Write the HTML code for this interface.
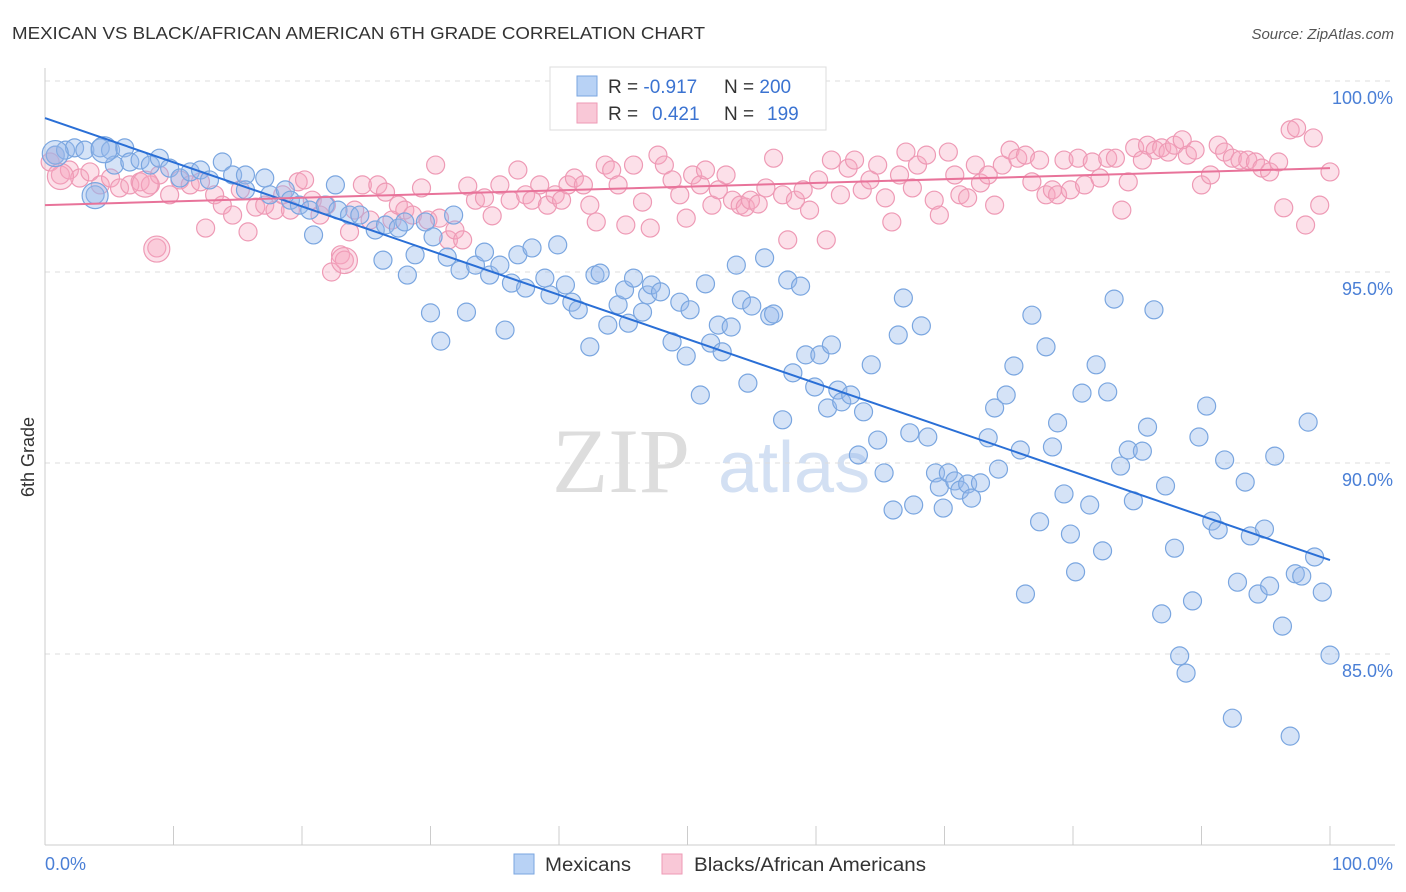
<!DOCTYPE html>
<html><head><meta charset="utf-8"><style>
body{margin:0;background:#fff;font-family:"Liberation Sans",sans-serif;}
svg{display:block}
</style></head><body>
<svg id="chart" width="1406" height="892" xmlns="http://www.w3.org/2000/svg">
<text x="12" y="39" font-size="17.5" fill="#333" textLength="693" lengthAdjust="spacingAndGlyphs">MEXICAN VS BLACK/AFRICAN AMERICAN 6TH GRADE CORRELATION CHART</text>
<text x="1394" y="39" font-size="15" fill="#555" font-style="italic" text-anchor="end">Source: ZipAtlas.com</text>
<g>
<text x="552" y="492" font-size="92" font-family="Liberation Serif, serif" fill="#ddd">ZIP</text>
<text x="718" y="492" font-size="72" fill="#d3e0f3">atlas</text>
</g>
<g id="grid"></g>
<g id="axes"></g>
<g id="marks"></g>
<g>
<rect x="550" y="67" width="276" height="63" fill="#fff" stroke="#ddd"/>
<rect x="577" y="76" width="20" height="20" fill="#b8d2f5" stroke="#7aa6e0"/>
<rect x="577" y="103" width="20" height="20" fill="#f9c8d7" stroke="#ee9ab5"/>
<text x="608" y="93" font-size="19" fill="#333">R = <tspan fill="#3b73d1">-0.917</tspan></text>
<text x="724" y="93" font-size="19" fill="#333">N = <tspan fill="#3b73d1">200</tspan></text>
<text x="608" y="120" font-size="19" fill="#333">R = <tspan x="652" fill="#3b73d1">0.421</tspan></text>
<text x="724" y="120" font-size="19" fill="#333">N = <tspan x="767" fill="#3b73d1">199</tspan></text>
</g>
<g>
<rect x="514" y="854" width="20" height="20" fill="#b8d2f5" stroke="#7aa6e0"/>
<text x="545" y="871" font-size="19" fill="#333" textLength="86" lengthAdjust="spacingAndGlyphs">Mexicans</text>
<rect x="662" y="854" width="20" height="20" fill="#f9c8d7" stroke="#ee9ab5"/>
<text x="694" y="871" font-size="19" fill="#333" textLength="232" lengthAdjust="spacingAndGlyphs">Blacks/African Americans</text>
</g>
<text x="0" y="0" font-size="18" fill="#333" transform="translate(34,457) rotate(-90)" text-anchor="middle">6th Grade</text>
</svg>
<script>
const yTicks=[100,95,90,85];
const yTickLabels=["100.0%","95.0%","90.0%","85.0%"];
const xTicks=[0,10,20,30,40,50,60,70,80,90,100];
const xEndLabels=["0.0%","100.0%"];
const mexicans=[[0.8,98.06],[1.6,98.19],[2.3,98.25],[3.1,98.19],[3.9,97.02],[4.3,98.25],[5.1,98.19],[6.2,98.25],[5.4,97.8],[6.6,97.88],[7.4,97.93],[8.2,97.8],[8.9,97.98],[9.7,97.72],[10.5,97.46],[11.3,97.62],[12.1,97.67],[12.8,97.41],[13.8,97.88],[14.6,97.54],[15.6,97.54],[15.6,97.15],[17.1,97.46],[17.5,97.02],[18.7,97.15],[19.1,96.88],[19.8,96.75],[20.6,96.62],[21.8,96.75],[22.6,97.28],[22.8,96.62],[23.7,96.49],[24.5,96.49],[25.7,96.1],[26.5,96.23],[27.5,96.15],[28.0,96.31],[29.6,96.31],[30.2,95.92],[31.8,96.49],[20.9,95.97],[26.3,95.31],[28.2,94.92],[28.8,95.45],[30.0,93.93],[30.8,93.19],[31.3,95.39],[32.3,95.05],[32.8,93.95],[33.5,95.18],[34.2,95.52],[34.6,94.92],[35.4,95.18],[35.8,93.48],[36.3,94.71],[36.8,95.45],[37.4,94.58],[37.9,95.63],[38.9,94.84],[39.3,94.4],[39.9,95.71],[40.5,94.66],[41.0,94.21],[41.5,94.01],[42.4,93.04],[42.8,94.92],[43.2,94.97],[43.8,93.61],[44.6,94.14],[45.1,94.53],[45.4,93.66],[45.8,94.84],[46.5,93.95],[46.9,94.4],[47.2,94.66],[47.9,94.48],[48.8,93.17],[49.4,94.21],[49.9,92.8],[50.2,94.01],[51.0,91.78],[51.4,94.69],[51.8,93.14],[52.4,93.61],[52.7,92.91],[53.4,93.56],[53.8,95.18],[54.2,94.27],[54.7,92.09],[55.0,94.11],[56.0,95.37],[56.4,93.85],[56.7,93.9],[57.4,91.13],[57.8,94.79],[58.2,92.36],[58.8,94.63],[59.2,92.83],[59.9,91.99],[60.3,92.83],[60.9,91.44],[61.2,93.09],[61.7,91.91],[62.0,91.6],[62.7,91.78],[63.3,90.21],[63.7,91.34],[64.3,92.57],[64.8,90.6],[65.3,89.74],[66.0,88.77],[66.4,93.35],[66.8,94.32],[67.3,90.79],[67.6,88.9],[68.2,93.59],[68.7,90.68],[69.3,89.74],[69.6,89.37],[69.9,88.82],[70.3,89.74],[70.8,89.53],[71.2,89.29],[71.8,89.45],[72.1,89.08],[72.8,89.48],[73.4,90.66],[73.9,91.44],[74.2,89.84],[74.8,91.78],[75.4,92.54],[75.9,90.34],[76.3,86.57],[76.8,93.87],[77.4,88.46],[77.9,93.04],[78.4,90.42],[78.8,91.05],[79.3,89.19],[79.8,88.14],[80.2,87.15],[80.7,91.83],[81.3,88.9],[81.8,92.57],[82.3,87.7],[82.7,91.86],[83.2,94.29],[83.7,89.92],[84.3,90.34],[84.7,89.01],[85.4,90.31],[85.8,90.94],[86.3,94.01],[86.9,86.05],[87.2,89.4],[87.9,87.77],[88.3,84.95],[88.8,84.5],[89.3,86.39],[89.8,90.68],[90.4,91.49],[90.8,88.48],[91.3,88.25],[91.8,90.08],[92.4,83.32],[92.8,86.88],[93.4,89.5],[93.8,88.09],[94.4,86.57],[94.9,88.27],[95.3,86.78],[95.7,90.18],[96.3,85.73],[96.9,82.85],[97.3,87.1],[97.8,87.04],[98.3,91.07],[98.8,87.54],[99.4,86.62],[100,84.97]];
const blacks=[[0.4,97.88],[0.8,98.06],[1.2,97.54],[1.9,97.67],[2.7,97.46],[3.5,97.62],[4.3,97.28],[5.1,97.46],[5.8,97.2],[6.6,97.28],[7.4,97.36],[8.2,97.28],[8.7,95.63],[8.9,97.54],[9.7,97.02],[10.5,97.41],[11.3,97.28],[12.1,97.36],[12.5,96.15],[13.2,97.02],[13.8,96.75],[14.6,96.49],[15.2,97.15],[15.8,96.05],[16.4,96.7],[17.1,96.75],[17.9,96.62],[18.5,97.02],[19.1,96.62],[19.7,97.36],[20.2,97.41],[20.8,96.88],[21.4,96.49],[21.9,96.75],[22.3,95.0],[23.0,95.45],[23.3,95.31],[23.7,96.05],[24.1,96.62],[24.7,97.28],[25.3,96.36],[25.9,97.28],[26.5,97.09],[27.0,96.36],[27.5,96.75],[28.0,96.62],[28.6,96.49],[29.3,97.2],[29.8,96.36],[30.4,97.8],[30.7,96.41],[31.4,95.84],[31.9,96.1],[32.5,95.84],[32.9,97.25],[33.5,96.88],[34.2,96.94],[34.8,96.47],[35.4,97.28],[36.2,96.88],[36.8,97.67],[37.4,97.02],[37.9,96.88],[38.5,97.28],[39.1,96.75],[39.7,97.02],[40.2,96.88],[40.7,97.28],[41.2,97.46],[41.9,97.28],[42.4,96.75],[42.9,96.31],[43.6,97.8],[44.1,97.67],[44.6,97.28],[45.2,96.23],[45.8,97.8],[46.5,96.83],[47.1,96.15],[47.7,98.06],[48.2,97.8],[48.8,97.41],[49.4,97.02],[49.9,96.41],[50.4,97.54],[51.0,97.28],[51.4,97.67],[51.9,96.75],[52.4,97.15],[53.0,97.54],[53.5,96.88],[54.1,96.75],[54.5,96.7],[54.9,96.88],[55.5,96.78],[56.1,97.2],[56.7,97.98],[57.4,97.02],[57.8,95.84],[58.4,96.88],[59.0,97.15],[59.5,96.62],[60.2,97.41],[60.8,95.84],[61.2,97.93],[61.9,97.02],[62.5,97.72],[63.0,97.93],[63.6,97.15],[64.2,97.41],[64.8,97.8],[65.4,96.94],[65.9,96.31],[66.5,97.54],[67.0,98.14],[67.5,97.2],[67.9,97.8],[68.6,98.06],[69.2,96.88],[69.6,96.49],[70.3,98.14],[70.8,97.54],[71.2,97.02],[71.8,96.94],[72.4,97.8],[72.8,97.33],[73.4,97.54],[73.9,96.75],[74.5,97.8],[75.1,98.19],[75.7,97.98],[76.3,98.06],[76.8,97.36],[77.4,97.93],[77.9,97.02],[78.4,97.15],[78.8,97.02],[79.3,97.93],[79.8,97.15],[80.4,97.98],[80.9,97.28],[81.5,97.88],[82.1,97.46],[82.7,97.98],[83.3,97.98],[83.8,96.62],[84.3,97.36],[84.8,98.25],[85.4,97.93],[85.8,98.32],[86.4,98.19],[86.9,98.25],[87.4,98.14],[87.9,98.32],[88.5,98.46],[88.9,98.06],[89.5,98.19],[90.0,97.28],[90.7,97.54],[91.3,98.32],[91.8,98.14],[92.4,97.98],[93.0,97.93],[93.6,97.93],[94.2,97.88],[94.7,97.72],[95.3,97.62],[96.0,97.88],[96.4,96.68],[96.9,98.72],[97.4,98.77],[98.1,96.23],[98.7,98.51],[99.2,96.75],[100,97.62]];
const mexicansBig=[[0.8,98.1],[3.9,97.0],[4.6,98.2]];
const blacksBig=[[1.2,97.5],[8.7,95.6],[23.3,95.3],[7.8,97.3]];
const mexicansTrend=[99.03,87.46];
const blacksTrend=[96.75,97.72];

const NS="http://www.w3.org/2000/svg";
const X0=45,X1=1330,YTOP=81,PX5=191;
const sx=v=>X0+(X1-X0)*v/100;
const sy=v=>YTOP+(100-v)/5*PX5;
function mk(tag,attrs,parent){const e=document.createElementNS(NS,tag);for(const k in attrs)e.setAttribute(k,attrs[k]);parent.appendChild(e);return e;}
const grid=document.getElementById('grid'),axes=document.getElementById('axes'),marks=document.getElementById('marks');
yTicks.forEach((t,i)=>{
 const l=mk('line',{x1:X0,x2:1395,y1:sy(t),y2:sy(t),stroke:'#ddd','stroke-dasharray':'5,5'},grid);
 
 
 const tx=mk('text',{x:1393,y:sy(t)+23,'font-size':18,fill:'#4a7fd6','text-anchor':'end'},axes);
 tx.textContent=yTickLabels[i];
 
 
});
const yl=mk('line',{x1:X0,x2:X0,y1:68,y2:845,stroke:'#ccc'},axes);


const xl=mk('line',{x1:X0,x2:1395,y1:845,y2:845,stroke:'#ccc'},axes);


xTicks.forEach(t=>{
 const l=mk('line',{x1:sx(t),x2:sx(t),y1:826,y2:845,stroke:'#ccc'},axes);
 
 
});
const xa=mk('text',{x:45,y:870,'font-size':18,fill:'#4a7fd6'},axes);xa.textContent=xEndLabels[0];


const xb=mk('text',{x:1393,y:870,'font-size':18,fill:'#4a7fd6','text-anchor':'end'},axes);xb.textContent=xEndLabels[1];



function dots(arr,r,fill,stroke,name){arr.forEach(p=>{
 const c=mk('circle',{cx:sx(p[0]),cy:sy(p[1]),r:r,fill:fill,stroke:stroke,'stroke-width':1.2},marks);
 
 
});}
dots(blacks,9,'rgba(245,165,192,0.35)','#ee9ab5','point-blacks');
dots(blacksBig,13,'rgba(245,165,192,0.35)','#ee9ab5','point-blacks-large');
dots(mexicans,9,'rgba(150,185,235,0.4)','#7aa6e0','point-mexicans');
dots(mexicansBig,13,'rgba(150,185,235,0.4)','#7aa6e0','point-mexicans-large');
const tb=mk('line',{x1:sx(0),y1:sy(mexicansTrend[0]),x2:sx(100),y2:sy(mexicansTrend[1]),stroke:'#2a6fd6','stroke-width':2},marks);


const tp=mk('line',{x1:sx(0),y1:sy(blacksTrend[0]),x2:sx(100),y2:sy(blacksTrend[1]),stroke:'#e8739a','stroke-width':2},marks);


</script>
</body></html>
